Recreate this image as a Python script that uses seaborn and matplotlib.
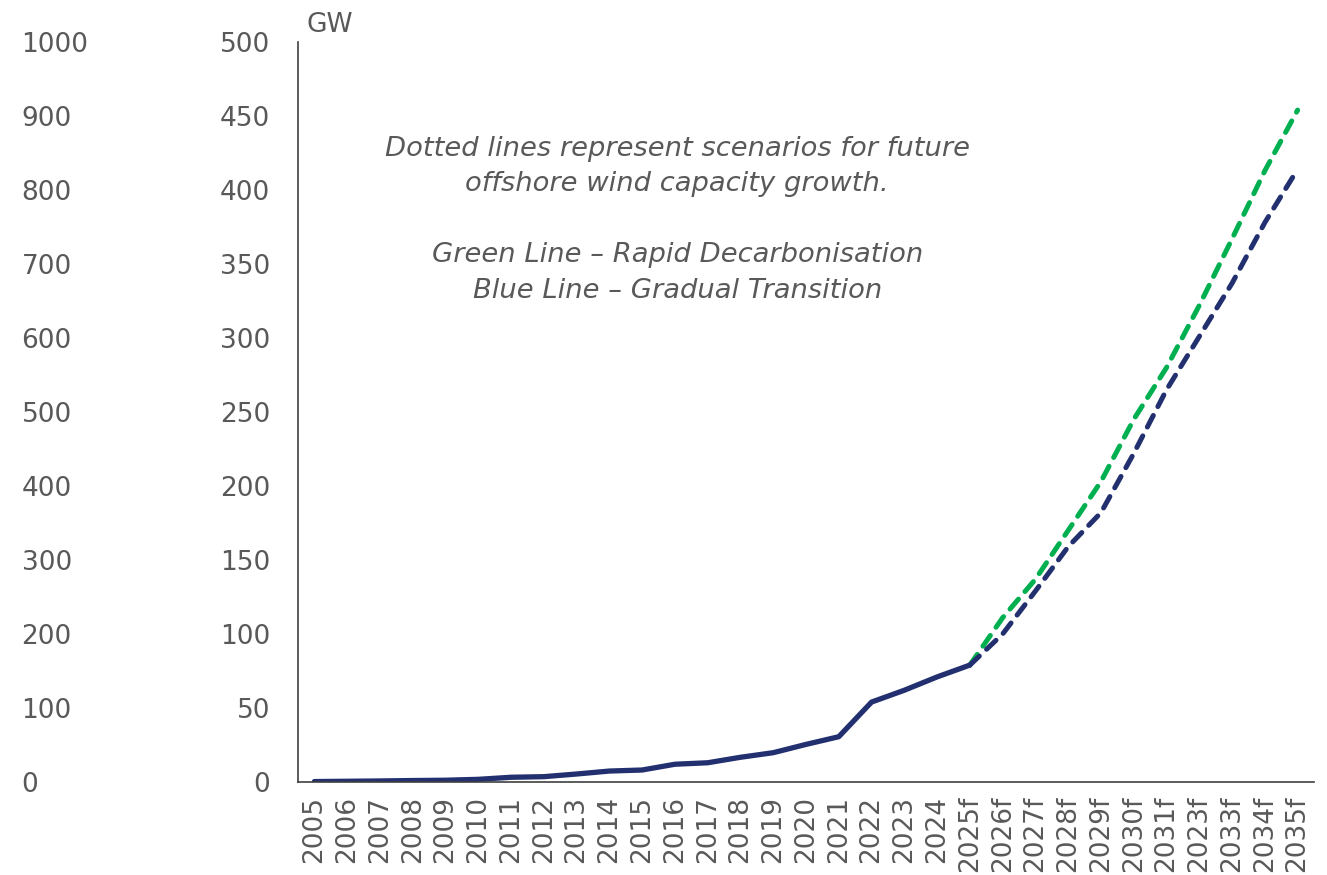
import matplotlib
matplotlib.use("Agg")
import matplotlib.pyplot as plt
import seaborn as sns
import pandas as pd
import numpy as np

# ---------------- data ----------------
categories = ['2005', '2006', '2007', '2008', '2009', '2010', '2011', '2012', '2013',
              '2014', '2015', '2016', '2017', '2018', '2019', '2020', '2021', '2022',
              '2023', '2024', '2025f', '2026f', '2027f', '2028f', '2029f', '2030f',
              '2031f', '2023f', '2033f', '2034f', '2035f']
historical = [0.3, 0.5, 0.7, 1.0, 1.2, 1.8, 3.2, 3.6, 5.4, 7.4, 8.1, 12.0, 13.0, 16.7,
              19.8, 25.4, 30.6, 54.0, 62.0, 71.0, 79.0]
rapid = [79, 111, 137, 170, 203, 245, 280, 322, 367, 413, 454]
gradual = [79, 100, 129, 159, 182, 222, 265, 301, 337, 378, 414]
left_ticks = [0, 50, 100, 150, 200, 250, 300, 350, 400, 450, 500]
outer_ticks = [0, 100, 200, 300, 400, 500, 600, 700, 800, 900, 1000]

NAVY = '#22306F'
GREEN = '#00B050'
GREY = '#595959'

sns.set_theme(style='white')
plt.rcParams['font.family'] = ['DejaVu Sans']

hist_df = pd.DataFrame({'x': np.arange(len(historical)), 'GW': historical})
start = len(historical) - 1
fut_df = pd.DataFrame({'x': np.arange(start, start + len(rapid)),
                       'rapid': rapid, 'gradual': gradual})

fig = plt.figure(figsize=(13.27, 8.75), dpi=100)
ax = fig.add_axes([298 / 1327, 1 - 782 / 875, (1314 - 298) / 1327, (782 - 42) / 875])

sns.lineplot(data=fut_df, x='x', y='rapid', ax=ax, color=GREEN, linewidth=3.6)
sns.lineplot(data=fut_df, x='x', y='gradual', ax=ax, color=NAVY, linewidth=3.6)
sns.lineplot(data=hist_df, x='x', y='GW', ax=ax, color=NAVY, linewidth=3.8)
lines = ax.get_lines()
for ln in lines[:2]:
    ln.set_linestyle((0, (2.6, 2.0)))
    ln.set_dash_capstyle('round')
lines[2].set_solid_capstyle('round')
lines[2].set_solid_joinstyle('round')

ax.set_xlim(-0.5, len(categories) - 0.5)
ax.set_ylim(0, 500)
ax.set_xticks(np.arange(len(categories)))
ax.set_xticklabels(categories, rotation=90, fontsize=19, color=GREY)
ax.set_yticks(left_ticks)
ax.set_yticklabels([str(t) for t in left_ticks], fontsize=19, color=GREY)
ax.tick_params(axis='y', length=0, pad=20)
ax.tick_params(axis='x', length=0, pad=10)
ax.set_xlabel('')
ax.set_ylabel('')
for s in ['top', 'right']:
    ax.spines[s].set_visible(False)
for s in ['left', 'bottom']:
    ax.spines[s].set_color('#404040')
    ax.spines[s].set_linewidth(1.2)
ax.set_facecolor('none')

# outer scale (0-1000), labels only
ax2 = ax.twinx()
ax2.set_ylim(0, 1000)
ax2.set_yticks(outer_ticks)
ax2.yaxis.set_ticks_position('left')
ax2.yaxis.set_label_position('left')
ax2.set_yticklabels([str(t) for t in outer_ticks], fontsize=19, color=GREY)
for lab in ax2.get_yticklabels():
    lab.set_horizontalalignment('left')
ax2.tick_params(axis='y', length=0, pad=199)
for s in ax2.spines.values():
    s.set_visible(False)
ax2.grid(False)

ax.text(0.008, 1.005, 'GW', transform=ax.transAxes, fontsize=19, color=GREY,
        ha='left', va='bottom')

note = ('Dotted lines represent scenarios for future\n'
        'offshore wind capacity growth.\n\n'
        'Green Line \u2013 Rapid Decarbonisation\n'
        'Blue Line \u2013 Gradual Transition')
ax.text(11.07, 436.5, note, fontsize=19.7, color=GREY, style='italic',
        ha='center', va='top', linespacing=1.47)

fig.savefig('out.png', dpi=100, facecolor='white')
